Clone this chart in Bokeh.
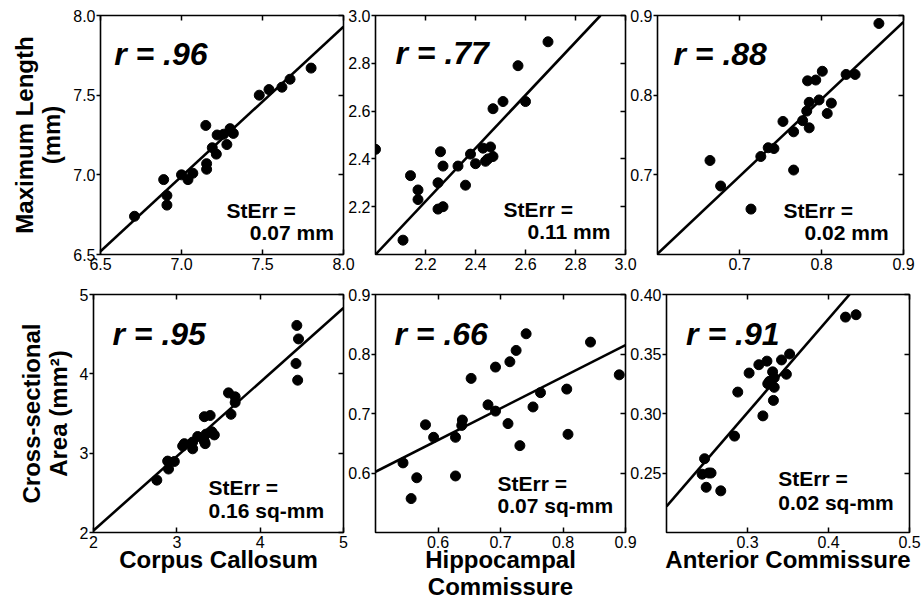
from bokeh.plotting import figure
from bokeh.layouts import row, column
from bokeh.models import LinearAxis, FixedTicker, Label
from bokeh.embed import file_html
from bokeh.resources import INLINE

FONT = "Liberation Sans"

# ---------------- data ----------------
# Maximum length (mm)
cc_len_x = [6.71, 6.89, 6.91, 6.91, 7.00, 7.04, 7.07, 7.15, 7.155, 7.155, 7.19, 7.215,
            7.22, 7.26, 7.28, 7.30, 7.32, 7.48, 7.54, 7.62, 7.67, 7.80]
cc_len_y = [6.74, 6.97, 6.87, 6.81, 7.00, 6.97, 7.01, 7.31, 7.07, 7.035, 7.17, 7.13,
            7.25, 7.255, 7.19, 7.29, 7.26, 7.50, 7.535, 7.55, 7.60, 7.67]

hc_len_x = [2.00, 2.14, 2.17, 2.17, 2.11, 2.25, 2.26, 2.27, 2.25, 2.27, 2.33, 2.36,
            2.38, 2.40, 2.43, 2.45, 2.46, 2.47, 2.44, 2.47, 2.51, 2.60, 2.57, 2.69]
hc_len_y = [2.44, 2.33, 2.27, 2.23, 2.06, 2.30, 2.43, 2.37, 2.19, 2.20, 2.37, 2.29,
            2.42, 2.38, 2.445, 2.40, 2.45, 2.41, 2.39, 2.61, 2.64, 2.64, 2.79, 2.89]

ac_len_x = [0.664, 0.677, 0.714, 0.726, 0.735, 0.742, 0.753, 0.766, 0.766, 0.777, 0.782,
            0.785, 0.785, 0.783, 0.793, 0.797, 0.801, 0.807, 0.812, 0.830, 0.841, 0.870]
ac_len_y = [0.718, 0.686, 0.657, 0.723, 0.734, 0.733, 0.767, 0.754, 0.706, 0.768, 0.780,
            0.759, 0.791, 0.818, 0.819, 0.794, 0.830, 0.777, 0.790, 0.826, 0.826, 0.890]

# Cross-sectional area (sq-mm)
cc_area_x = [2.76, 2.90, 2.89, 2.97, 3.07, 3.09, 3.19, 3.19, 3.25, 3.33, 3.35, 3.45,
             3.33, 3.40, 3.42, 3.62, 3.65, 3.70, 3.70, 4.44, 4.46, 4.43, 4.45, 3.34]
cc_area_y = [2.66, 2.80, 2.90, 2.895, 3.09, 3.12, 3.055, 3.14, 3.21, 3.15, 3.24, 3.23,
             3.46, 3.475, 3.27, 3.76, 3.49, 3.71, 3.64, 4.61, 4.44, 4.13, 3.92, 3.12]

hc_area_x = [0.544, 0.557, 0.566, 0.580, 0.593, 0.628, 0.628, 0.639, 0.638, 0.653, 0.680,
             0.692, 0.692, 0.712, 0.715, 0.725, 0.731, 0.741, 0.752, 0.764, 0.806, 0.808,
             0.844, 0.890]
hc_area_y = [0.617, 0.557, 0.592, 0.681, 0.660, 0.660, 0.595, 0.689, 0.680, 0.759, 0.7145,
             0.778, 0.704, 0.683, 0.787, 0.806, 0.646, 0.834, 0.711, 0.735, 0.741, 0.665,
             0.820, 0.765]

ac_area_x = [0.244, 0.247, 0.252, 0.255, 0.249, 0.267, 0.284, 0.288, 0.302, 0.314, 0.324,
             0.319, 0.325, 0.327, 0.331, 0.333, 0.333, 0.332, 0.342, 0.348, 0.352, 0.421,
             0.434]
ac_area_y = [0.249, 0.262, 0.250, 0.250, 0.238, 0.235, 0.281, 0.318, 0.334, 0.341, 0.344,
             0.298, 0.325, 0.327, 0.335, 0.330, 0.322, 0.311, 0.345, 0.333, 0.350, 0.381,
             0.383]

# regression lines (end points)
cc_len_fit_x, cc_len_fit_y = [6.5, 8.0], [6.52, 7.93]
hc_len_fit_x, hc_len_fit_y = [2.0, 2.9], [2.0, 3.0]
ac_len_fit_x, ac_len_fit_y = [0.6, 0.9], [0.601, 0.892]
cc_area_fit_x, cc_area_fit_y = [2.0, 5.0], [2.025, 4.83]
hc_area_fit_x, hc_area_fit_y = [0.5, 0.9], [0.602, 0.815]
ac_area_fit_x, ac_area_fit_y = [0.2, 0.426], [0.222, 0.40]

# ticks
cc_len_ticks = [6.5, 7.0, 7.5, 8.0]
cc_len_labels = ["6.5", "7.0", "7.5", "8.0"]
hc_len_ticks = [2.2, 2.4, 2.6, 2.8, 3.0]
hc_len_labels = ["2.2", "2.4", "2.6", "2.8", "3.0"]
ac_len_ticks = [0.7, 0.8, 0.9]
ac_len_labels = ["0.7", "0.8", "0.9"]
cc_area_ticks = [2, 3, 4, 5]
cc_area_labels = ["2", "3", "4", "5"]
hc_area_ticks = [0.6, 0.7, 0.8, 0.9]
hc_area_labels = ["0.6", "0.7", "0.8", "0.9"]
ac_area_xticks = [0.3, 0.4, 0.5]
ac_area_xlabels = ["0.3", "0.4", "0.5"]
ac_area_yticks = [0.25, 0.30, 0.35, 0.40]
ac_area_ylabels = ["0.25", "0.30", "0.35", "0.40"]

r_texts = ["r = .96", "r = .77", "r = .88", "r = .95", "r = .66", "r = .91"]
sterr_head = "StErr ="
sterr_texts = ["0.07 mm", "0.11 mm", "0.02 mm", "0.16 sq-mm", "0.07 sq-mm", "0.02 sq-mm"]

row_labels = ["Maximum Length\n(mm)", "Cross-sectional\nArea (mm\u00b2)"]
col_labels = ["Corpus Callosum", "Hippocampal\nCommissure", "Anterior Commissure"]


def panel(xs, ys, fx, fy, xr, yr, xt, xl, yt, yl, w, h, bl, br, bt, bb,
          rtext, stext, rpos, spos, vpos, ylabel=None, xlabel=None, shift=0):
    p = figure(width=w, height=h, x_range=xr, y_range=yr,
               output_backend="svg", toolbar_location=None,
               min_border_left=bl, min_border_right=br,
               min_border_top=bt, min_border_bottom=bb,
               border_fill_color=None, background_fill_color="white",
               outline_line_color="black", outline_line_width=1.6,
               margin=(0, 0, 0, -shift))
    p.grid.visible = False
    p.xaxis.ticker = FixedTicker(ticks=xt)
    p.yaxis.ticker = FixedTicker(ticks=yt)
    p.xaxis.major_label_overrides = dict(zip(xt, xl))
    p.yaxis.major_label_overrides = dict(zip(yt, yl))
    for ax in (p.xaxis, p.yaxis):
        ax.axis_line_color = None
        ax.minor_tick_line_color = None
        ax.major_tick_line_color = "black"
        ax.major_tick_line_width = 1.5
        ax.major_label_text_font = FONT
        ax.major_label_text_font_size = "16px"
        ax.major_label_text_color = "black"
        ax.axis_label_text_font = FONT
        ax.axis_label_text_font_style = "bold"
        ax.axis_label_text_font_size = "24px"
        ax.axis_label_text_color = "black"
        ax.axis_label_text_line_height = 1.0
    p.xaxis.major_tick_in = 5
    p.xaxis.major_tick_out = 0
    p.xaxis.major_label_standoff = 3
    p.yaxis.major_tick_in = 0
    p.yaxis.major_tick_out = 4
    p.yaxis.major_label_standoff = 1
    if ylabel:
        p.yaxis.axis_label = ylabel
        p.yaxis.axis_label_standoff = 5
    if xlabel:
        p.xaxis.axis_label = xlabel
        p.xaxis.axis_label_standoff = -5

    for loc, t in (("above", xt), ("right", yt)):
        ax = LinearAxis(ticker=FixedTicker(ticks=t),
                        major_label_overrides={v: "" for v in t},
                        major_label_text_font_size="1px",
                        major_label_standoff=0, major_tick_in=5, major_tick_out=0,
                        axis_line_color=None, minor_tick_line_color=None,
                        major_tick_line_color="black", major_tick_line_width=1.5)
        p.add_layout(ax, loc)

    p.line(fx, fy, line_color="black", line_width=2.6)
    p.scatter(xs, ys, size=10, fill_color="black", line_color="black")

    fw = w - bl - br
    fh = h - bt - bb

    def at(dx, dy):
        return (xr[0] + dx * (xr[1] - xr[0]) / fw, yr[1] - dy * (yr[1] - yr[0]) / fh)

    x, y = at(*rpos)
    p.add_layout(Label(x=x, y=y, text=rtext, text_font=FONT, text_font_size="32px",
                       text_font_style="bold italic", text_color="black",
                       text_baseline="alphabetic", text_align="left"))
    x, y = at(*spos)
    p.add_layout(Label(x=x, y=y, text=sterr_head, text_font=FONT, text_font_size="21px",
                       text_font_style="bold", text_color="black",
                       text_baseline="alphabetic", text_align="left"))
    x, y = at(*vpos)
    p.add_layout(Label(x=x, y=y, text=stext, text_font=FONT, text_font_size="21px",
                       text_font_style="bold", text_color="black",
                       text_baseline="alphabetic", text_align="left"))
    return p


# the layout is placed 8px from the left edge of the page
TOP_H, BOT_H = 280, 323

p1 = panel(cc_len_x, cc_len_y, cc_len_fit_x, cc_len_fit_y, (6.5, 8.0), (6.5, 8.0),
           cc_len_ticks, cc_len_labels, cc_len_ticks, cc_len_labels,
           349, TOP_H, 86, 14, 14, 26, r_texts[0], sterr_texts[0],
           (14, 39), (129, 196), (153, 218), ylabel=row_labels[0])
p2 = panel(hc_len_x, hc_len_y, hc_len_fit_x, hc_len_fit_y, (2.0, 3.0), (2.0, 3.0),
           hc_len_ticks, hc_len_labels, hc_len_ticks, hc_len_labels,
           294, TOP_H, 30, 14, 15, 25, r_texts[1], sterr_texts[1],
           (20, 38), (128, 195), (152, 217), shift=12)
p3 = panel(ac_len_x, ac_len_y, ac_len_fit_x, ac_len_fit_y, (0.6, 0.9), (0.6, 0.9),
           ac_len_ticks, ac_len_labels, ac_len_ticks, ac_len_labels,
           288, TOP_H, 30, 12, 14, 26, r_texts[2], sterr_texts[2],
           (16, 39), (126, 196), (147, 218), shift=12)

p4 = panel(cc_area_x, cc_area_y, cc_area_fit_x, cc_area_fit_y, (2, 5), (2, 5),
           cc_area_ticks, cc_area_labels, cc_area_ticks, cc_area_labels,
           349, BOT_H, 85, 14, 14, 71, r_texts[3], sterr_texts[3],
           (19, 39), (115, 193), (115, 216), ylabel=row_labels[1], xlabel=col_labels[0])
p5 = panel(hc_area_x, hc_area_y, hc_area_fit_x, hc_area_fit_y, (0.5, 0.9), (0.5, 0.9),
           hc_area_ticks, hc_area_labels, hc_area_ticks, hc_area_labels,
           294, BOT_H, 30, 14, 14, 71, r_texts[4], sterr_texts[4],
           (19, 39), (122, 189), (122, 211), xlabel=col_labels[1], shift=12)
p6 = panel(ac_area_x, ac_area_y, ac_area_fit_x, ac_area_fit_y, (0.2, 0.5), (0.2, 0.4),
           ac_area_xticks, ac_area_xlabels, ac_area_yticks, ac_area_ylabels,
           296, BOT_H, 34, 14, 14, 71, r_texts[5], sterr_texts[5],
           (20, 39), (114, 184), (114, 208), xlabel=col_labels[2], shift=12)

layout = column(row(p1, p2, p3), row(p4, p5, p6), styles={"margin-left": "8px"})

open("out.html", "w").write(file_html(layout, INLINE))
